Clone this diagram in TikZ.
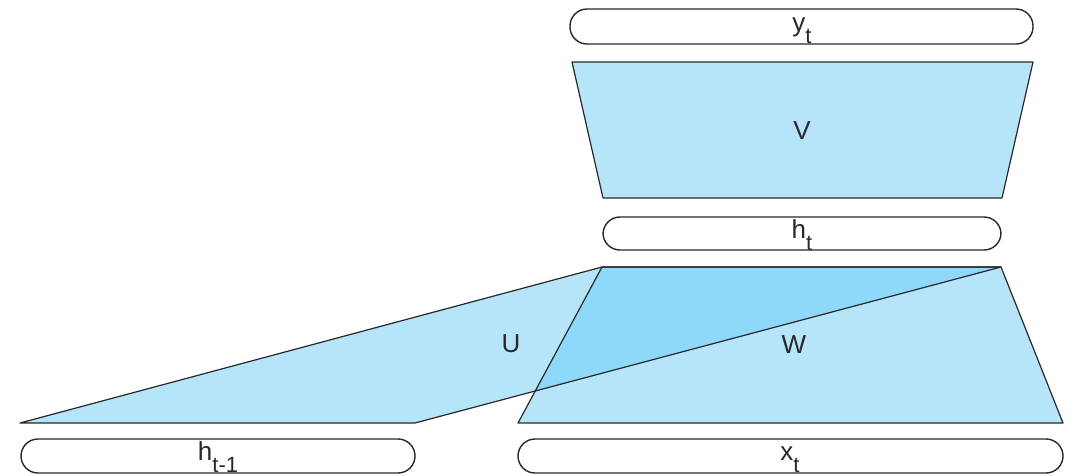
\documentclass[tikz,border=0pt]{standalone}
\usepackage{fontspec}
\setmainfont{Liberation Sans}
\definecolor{lightfill}{RGB}{182,229,250}
\definecolor{darkfill}{RGB}{142,216,249}
\definecolor{edgecol}{RGB}{40,40,40}
\newcommand\lblsub[1]{\raisebox{-12pt}{\fontsize{22}{22}\selectfont #1}}
\begin{document}
\begin{tikzpicture}[x=1pt,y=-1pt,
  pill/.style={draw=edgecol,line width=1.4pt,rounded corners=17pt,fill=white},
  panel/.style={draw=edgecol,line width=1.2pt,line join=round},
  lbl/.style={font=\fontsize{26}{30}\selectfont,inner sep=0pt,text=edgecol},
  plbl/.style={lbl,anchor=base}]
\useasboundingbox (0,0) rectangle (1081,475);
% corner coordinates
\coordinate (vtl) at (572,62);  \coordinate (vtr) at (1033,62);
\coordinate (vbr) at (1002,198); \coordinate (vbl) at (603,198);
\coordinate (ul) at (20,423);  \coordinate (ttl) at (602,267);
\coordinate (ttr) at (1001,267); \coordinate (ubr) at (415,423);
\coordinate (wbr) at (1063,423); \coordinate (wbl) at (518,423);
% pills
\draw[pill] (570,9) rectangle (1033,44);
\draw[pill] (603,217) rectangle (1001,250);
\draw[pill] (21,439) rectangle (415,473);
\draw[pill] (518,439) rectangle (1063,473);
% V
\fill[lightfill] (vtl) -- (vtr) -- (vbr) -- (vbl) -- cycle;
% U and W
\fill[lightfill] (ul) -- (ttl) -- (ttr) -- (ubr) -- cycle;
\fill[lightfill] (ttl) -- (ttr) -- (wbr) -- (wbl) -- cycle;
\begin{scope}
  \clip (ul) -- (ttl) -- (ttr) -- (ubr) -- cycle;
  \fill[darkfill] (ttl) -- (ttr) -- (wbr) -- (wbl) -- cycle;
\end{scope}
\draw[panel] (vtl) -- (vtr) -- (vbr) -- (vbl) -- cycle;
\draw[panel] (ul) -- (ttl) -- (ttr) -- (ubr) -- cycle;
\draw[panel] (ttl) -- (ttr) -- (wbr) -- (wbl) -- cycle;
% labels
\node[lbl] (V) at (802,131) {V};
\node[lbl] (U) at (511,344) {U};
\node[lbl] (W) at (794,345) {W};
\node[plbl] (yt) at (802,31) {y\lblsub{t}};
\node[plbl] (ht) at (802,238) {h\lblsub{t}};
\node[plbl] (htm) at (218,460) {h\lblsub{t-1}};
\node[plbl] (xt) at (790,460) {x\lblsub{t}};
\end{tikzpicture}
\end{document}
